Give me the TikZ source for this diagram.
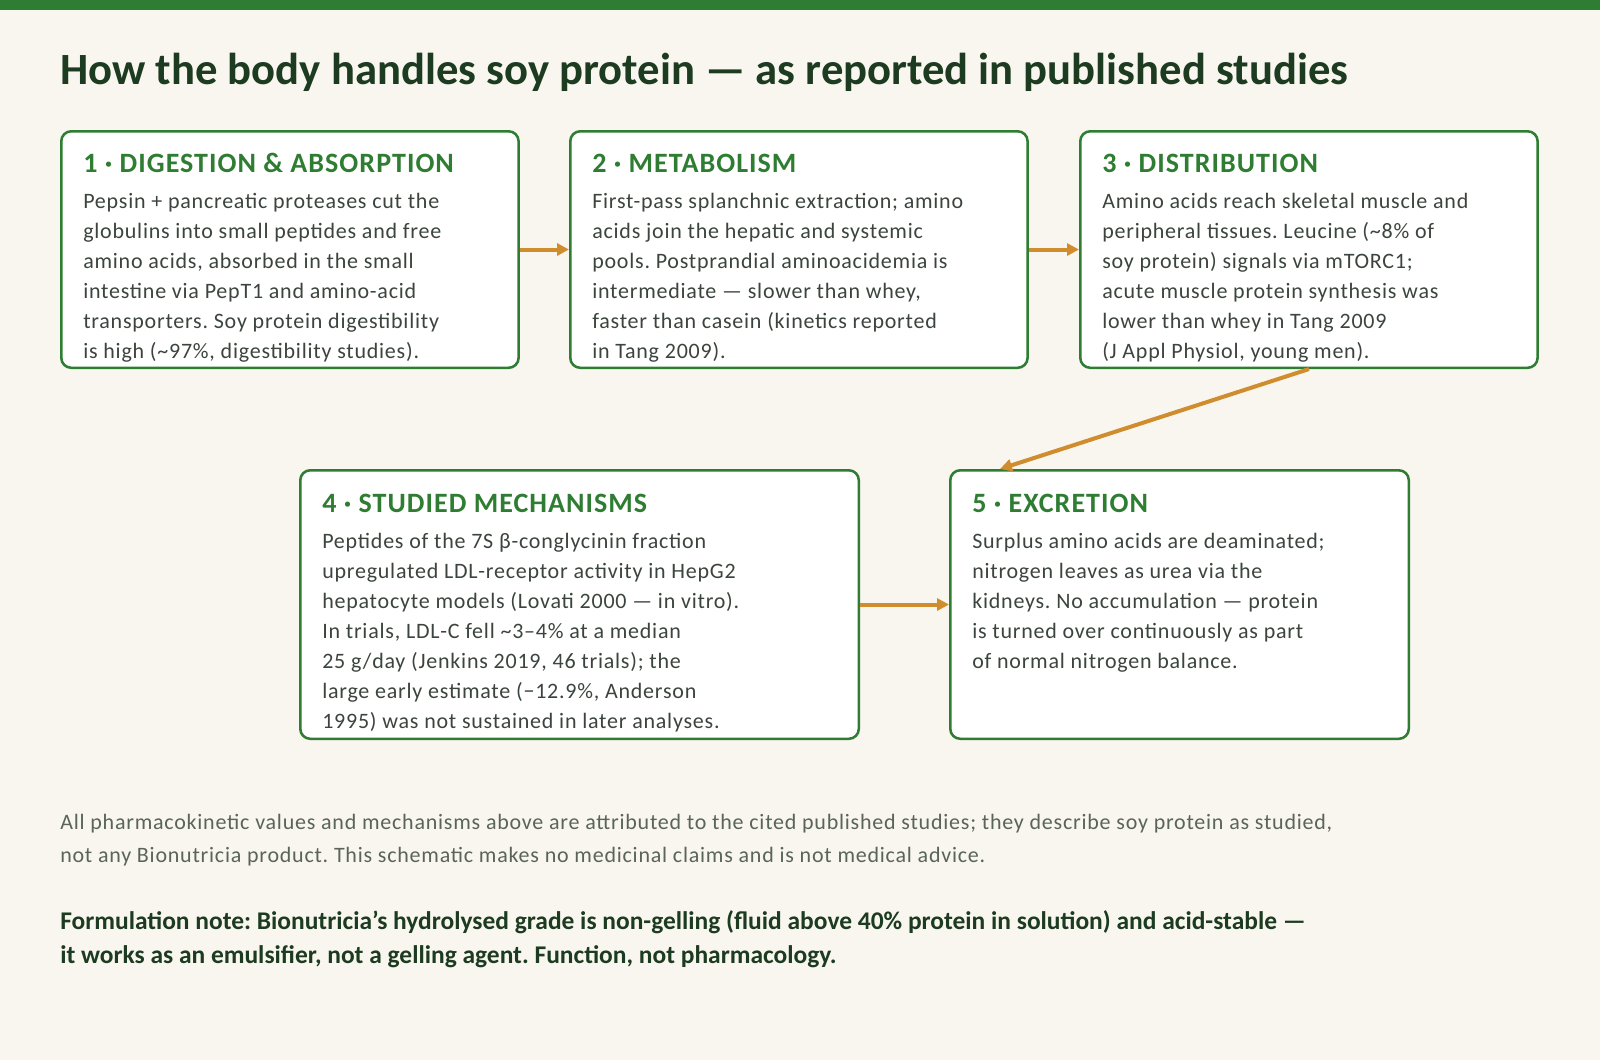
\documentclass[tikz,border=0pt]{standalone}
\usepackage{fontspec}
\setmainfont{Carlito}
\newfontfamily\bodyfont[LetterSpace=3.5]{Carlito}
\newfontfamily\headfont[LetterSpace=3.7]{Carlito}
\usetikzlibrary{
	arrows.meta,
	calc,
	positioning,
}
\definecolor{paper}{HTML}{F9F6EF}
\definecolor{leaf}{HTML}{2E7D32}
\definecolor{deep}{HTML}{1C3B20}
\definecolor{ink}{HTML}{3B453D}
\definecolor{mute}{HTML}{59645B}
\definecolor{amber}{HTML}{CF8D2E}
\tikzset{stage/.style={draw=leaf,fill=white,line width=1.9pt,rounded corners=7.5pt,anchor=north west,inner sep=0pt,minimum width=343pt,minimum height=177.4pt}}
\tikzset{wide/.style={minimum width=418.9pt,minimum height=201.4pt}}
\tikzset{short/.style={minimum width=343.9pt,minimum height=201.4pt}}
\tikzset{head/.style={anchor=base west,inner sep=0pt,text=leaf,font=\headfont\fontsize{21pt}{21pt}\selectfont\bfseries}}
\tikzset{body/.style={anchor=base west,inner sep=0pt,text=ink,align=left,font=\bodyfont\fontsize{16.5pt}{22.5pt}\selectfont}}
\tikzset{flow/.style={draw=amber,line width=3pt,-{Triangle[length=9pt,width=9pt]}}}

\begin{document}
\frenchspacing
\begin{tikzpicture}[x=0.75pt,y=-0.75pt]

\useasboundingbox (0,0) rectangle (1600,1060);
\fill[paper] (0,0) rectangle (1600,1060);
\fill[leaf] (0,0) rectangle (1600,10);

\node[anchor=base west,inner sep=0pt,text=deep,font=\fontsize{33.5pt}{33.5pt}\selectfont\bfseries] (title) at (60,84)
{How the body handles soy protein — as reported in published studies};

% stages (text nodes sit on their last baseline)
\node[stage] (dig) at (60,130) {};
\node[stage] (met) at (569,130) {};
\node[stage] (dist) at (1079,130) {};
\node[stage,wide] (mech) at (299,469) {};
\node[stage,short] (exc) at (949,469) {};

\node[head] (dig-h) at ($(dig.north west)+(23,42)$) {1 · DIGESTION \& ABSORPTION};
\node[body] (dig-b) at ($(dig.north west)+(23,228)$)
{Pepsin + pancreatic proteases cut the\\
globulins into small peptides and free\\
amino acids, absorbed in the small\\
intestine via PepT1 and amino-acid\\
transporters. Soy protein digestibility\\
is high (\textasciitilde97\%, digestibility studies).};

\node[head] (met-h) at ($(met.north west)+(23,42)$) {2 · METABOLISM};
\node[body] (met-b) at ($(met.north west)+(23,228)$)
{First-pass splanchnic extraction; amino\\
acids join the hepatic and systemic\\
pools. Postprandial aminoacidemia is\\
intermediate — slower than whey,\\
faster than casein (kinetics reported\\
in Tang 2009).};

\node[head] (dist-h) at ($(dist.north west)+(23,42)$) {3 · DISTRIBUTION};
\node[body] (dist-b) at ($(dist.north west)+(23,228)$)
{Amino acids reach skeletal muscle and\\
peripheral tissues. Leucine (\textasciitilde8\% of\\
soy protein) signals via mTORC1;\\
acute muscle protein synthesis was\\
lower than whey in Tang 2009\\
(J Appl Physiol, young men).};

\node[head] (mech-h) at ($(mech.north west)+(23,43)$) {4 · STUDIED MECHANISMS};
\node[body] (mech-b) at ($(mech.north west)+(23,259)$)
{Peptides of the 7S β-conglycinin fraction\\
upregulated LDL-receptor activity in HepG2\\
hepatocyte models (Lovati 2000 — in vitro).\\
In trials, LDL-C fell \textasciitilde3–4\% at a median\\
25 g/day (Jenkins 2019, 46 trials); the\\
large early estimate (−12.9\%, Anderson\\
1995) was not sustained in later analyses.};

\node[head] (exc-h) at ($(exc.north west)+(23,43)$) {5 · EXCRETION};
\node[body] (exc-b) at ($(exc.north west)+(23,199)$)
{Surplus amino acids are deaminated;\\
nitrogen leaves as urea via the\\
kidneys. No accumulation — protein\\
is turned over continuously as part\\
of normal nitrogen balance.};

\draw[flow] (dig) -- (met);
\draw[flow] (met) -- (dist);
\draw[flow] (dist.south) -- ($(exc.north west)+(51,0)$);
\draw[flow] (mech) -- (exc);

% notes
\node[anchor=base west,inner sep=0pt,text=mute,align=left,font=\bodyfont\fontsize{16.5pt}{24.4pt}\selectfont] (caveat) at (60,862)
{All pharmacokinetic values and mechanisms above are attributed to the cited published studies; they describe soy protein as studied,\\
not any Bionutricia product. This schematic makes no medicinal claims and is not medical advice.};

\node[anchor=base west,inner sep=0pt,text=deep,align=left,font=\fontsize{19.1pt}{25.5pt}\selectfont\bfseries] (note) at (60,963)
{Formulation note: Bionutricia's hydrolysed grade is non-gelling (fluid above 40\% protein in solution) and acid-stable —\\
it works as an emulsifier, not a gelling agent. Function, not pharmacology.};

\end{tikzpicture}
\end{document}
